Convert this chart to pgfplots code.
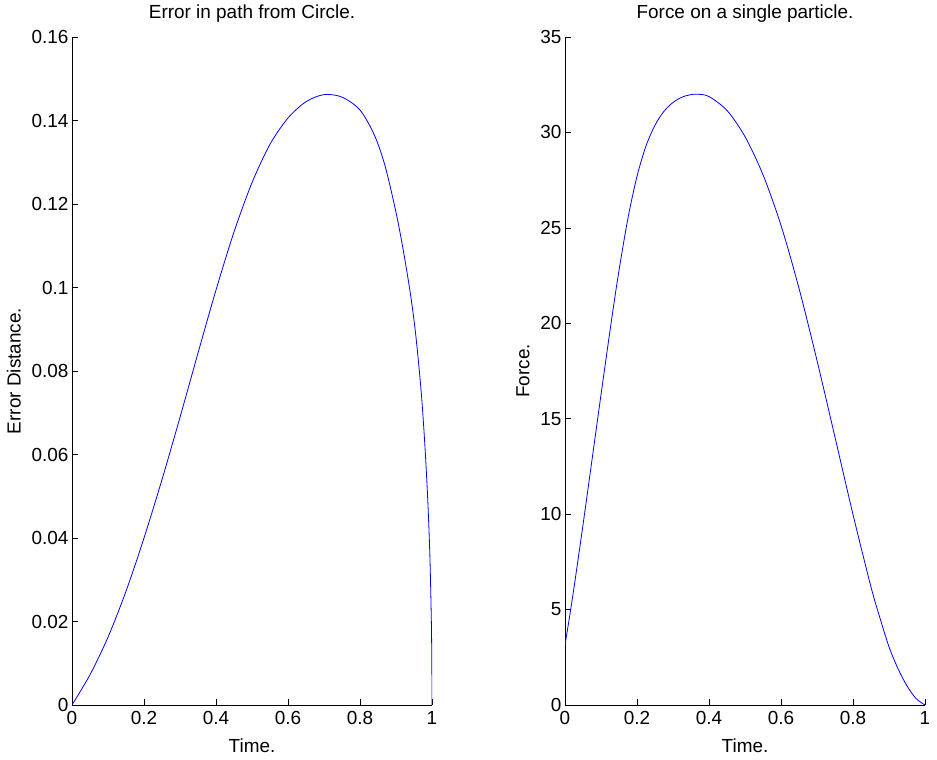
\documentclass[border=0pt]{standalone}
\usepackage{fontspec}
\setmainfont{Liberation Sans}
\usepackage{pgfplots}
\pgfplotsset{compat=1.18}
\pgfplotsset{myax/.style={
  scale only axis, width=360bp, height=668bp,
  axis lines*=left, axis line style={-,black},
  tick align=inside, major tick length=6bp,
  tick style={black, line width=0.5bp},
  xmin=0, xmax=1, xtick={0,0.2,0.4,0.6,0.8,1},
  /pgf/number format/assume math mode=true,
  scaled ticks=false,
  xticklabel style={/pgf/number format/fixed, yshift=-3bp},
  yticklabel style={/pgf/number format/fixed, /pgf/number format/precision=2},
  xlabel={Time.},
  xlabel style={yshift=-7bp},
  ylabel style={yshift=4bp},
  title style={yshift=5bp},
  every axis plot/.append style={blue, line width=0.8bp},
}}
\begin{document}
\begin{tikzpicture}[font=\fontsize{19}{23}\selectfont]
\path[use as bounding box] (0,0) rectangle (937bp,760bp);
\begin{axis}[myax, at={(72bp,55bp)}, anchor=south west,
  ymin=0, ymax=0.16, ytick={0,0.02,0.04,0.06,0.08,0.1,0.12,0.14,0.16},
  title={Error in path from Circle.}, ylabel={Error Distance.}]
\addplot[smooth, tension=0.5] coordinates {
(0,0) (0.05,0.00725) (0.1,0.01625) (0.15,0.02725) (0.2,0.0400) (0.25,0.0540)
(0.3,0.0689) (0.35,0.0843) (0.4,0.0994) (0.45,0.1133) (0.5,0.1251)
(0.55,0.1343) (0.6,0.1406) (0.65,0.1445) (0.7,0.1462) (0.75,0.1456)
(0.8,0.1425) (0.84,0.1365) (0.87,0.1290) (0.9,0.1180) (0.92,0.1090)
(0.94,0.0985) (0.955,0.0885) (0.97,0.0750) (0.98,0.0625) (0.988,0.0495)
(0.994,0.0360) (0.998,0.0210) (0.9995,0.0105) (1,0)};
\end{axis}
\begin{axis}[myax, at={(565bp,55bp)}, anchor=south west,
  ymin=0, ymax=35, ytick={0,5,10,15,20,25,30,35},
  yticklabel style={/pgf/number format/precision=0},
  title={Force on a single particle.}, ylabel={Force.}]
\addplot[smooth, tension=0.5] coordinates {
(0,3.15) (0.02,5.52) (0.05,9.44) (0.1,16.26) (0.13,20.27) (0.15,22.77)
(0.175,25.52) (0.2,27.70) (0.225,29.29) (0.25,30.38) (0.275,31.11)
(0.3,31.57) (0.325,31.85) (0.35,31.98) (0.369,32.00) (0.4,31.88)
(0.45,31.15) (0.5,29.78) (0.55,27.78) (0.6,25.13) (0.65,21.83)
(0.7,18.05) (0.75,14.03) (0.8,9.98) (0.85,6.18) (0.875,4.55) (0.9,3.05)
(0.925,1.90) (0.95,1.00) (0.975,0.34) (1,0)};
\end{axis}
\end{tikzpicture}
\end{document}
